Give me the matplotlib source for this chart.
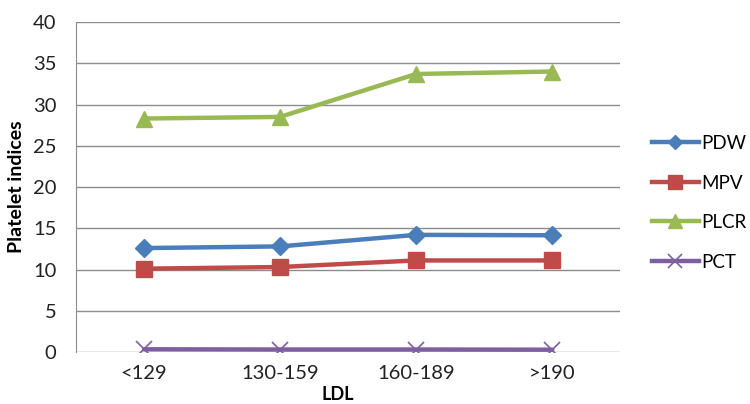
import matplotlib
matplotlib.use("Agg")
import matplotlib.pyplot as plt
from matplotlib.lines import Line2D

categories = ["<129", "130-159", "160-189", ">190"]
pdw = [12.6, 12.8, 14.2, 14.15]
mpv = [10.1, 10.3, 11.1, 11.1]
plcr = [28.3, 28.5, 33.7, 34.0]
pct = [0.33, 0.3, 0.3, 0.28]

series = [
    ("PDW", pdw, "#4A7EBB", "D", 9, 1),
    ("MPV", mpv, "#BE4B48", "s", 11, 1),
    ("PLCR", plcr, "#98B954", "^", 12, 1),
    ("PCT", pct, "#7D5FA0", "x", 11, 1.2),
]
leg_ms = [7, 10, 10, 10]

plt.rcParams['font.family'] = ['Lato', 'DejaVu Sans']
fig = plt.figure(figsize=(7.5, 4.04), dpi=100)
ax = fig.add_axes([0.1013, 0.1287, 0.827 - 0.1013, 0.9455 - 0.1287])

x = [i + 0.5 for i in range(len(categories))]
handles = []
for (name, vals, col, mk, ms, mew), lms in zip(series, leg_ms):
    ax.plot(x, vals, color=col, lw=3.2, marker=mk, markersize=ms,
            markeredgewidth=mew, markerfacecolor=col, markeredgecolor=col,
            solid_capstyle='round', zorder=3)
    handles.append(Line2D([0], [0], color=col, lw=3.2, marker=mk, markersize=lms,
                          markeredgewidth=mew, markerfacecolor=col, markeredgecolor=col))

ax.set_xlim(0, 4)
ax.set_ylim(0, 40)
ax.set_yticks(range(0, 41, 5))
ax.set_xticks(x)
ax.set_xticklabels(categories)
ax.tick_params(axis='both', length=0, labelsize=14.5, colors='#222222')
ax.tick_params(axis='y', pad=14)
ax.tick_params(axis='x', pad=9)
ax.grid(axis='y', color='#8C8C8C', lw=1)
ax.set_axisbelow(True)
for s in ['top', 'right', 'bottom']:
    ax.spines[s].set_visible(False)
ax.spines['left'].set_color('#8C8C8C')

ax.set_ylabel("Platelet indices", fontsize=14, fontweight='bold', labelpad=6)
fig.text(338 / 750, 1 - 395 / 404, "LDL", fontsize=13, fontweight='bold',
         ha='center', va='center')

leg = fig.legend(handles, [s[0] for s in series], loc='upper left',
                 bbox_to_anchor=(652 / 750, 1 - 135 / 404), frameon=False,
                 fontsize=13.5, handlelength=2.5, labelspacing=1.2,
                 handletextpad=0.12, borderaxespad=0, borderpad=0)

fig.savefig("out.png", dpi=100)
